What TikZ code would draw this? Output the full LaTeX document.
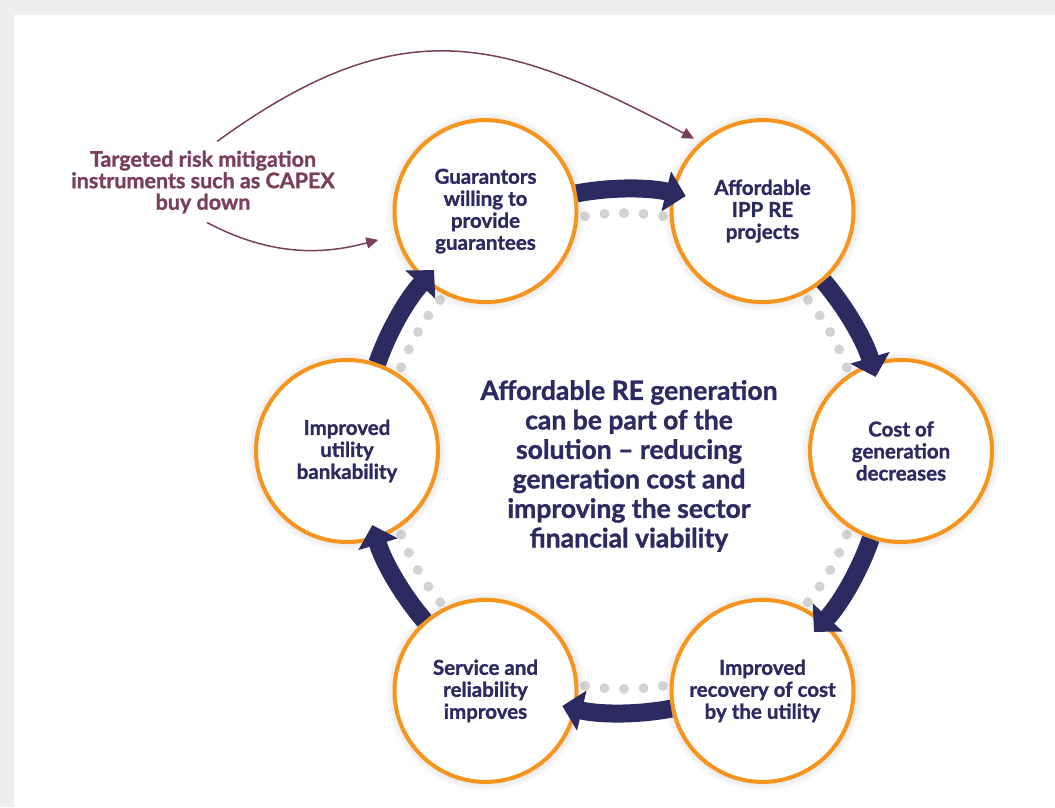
\documentclass[tikz,border=0pt]{standalone}
\usepackage{fontspec}
\setmainfont{Lato}
\newfontfamily\heavyfont{Lato}[Ligatures=TeX,BoldFeatures={FakeBold=1.2}]
\usepackage{xcolor}
\usetikzlibrary{arrows.meta,shadows,positioning,calc}
\definecolor{cyclenavy}{HTML}{2B2A61}
\definecolor{cycleorange}{HTML}{F7941E}
\definecolor{riskmaroon}{HTML}{7A3F5B}
\definecolor{dotgray}{HTML}{D3D3D3}
\definecolor{cardgray}{HTML}{EEEEEE}

\begin{document}
\begin{tikzpicture}[x=1pt,y=1pt,
    stage/.style={circle,minimum size=182pt,inner sep=0pt,draw=cycleorange,line width=4pt,fill=white,
        align=center,text=cyclenavy,font=\heavyfont\fontsize{20.5}{22}\selectfont\bfseries,
        circular drop shadow={shadow xshift=0pt,shadow yshift=0pt,shadow scale=1.1,opacity=0.3}},
    cyclearrow/.style={cyclenavy,line width=18pt,-{Triangle[length=20pt,width=40pt]}},
    riskarrow/.style={riskmaroon,line width=1.5pt,-{Triangle[length=12pt,width=11pt]}}]
    % Card
    \fill[cardgray] (0,0) rectangle (1055,807);
    \fill[white,drop shadow={shadow xshift=0pt,shadow yshift=0pt,opacity=0.2}] (14,0) rectangle (1055,792);
    
    \coordinate (hub) at (624,356);
    \begin{scope}[shift={(hub)}]
    % Dotted inner ring
    \foreach \c in {90,30,-30,-90,-150,150}
        \foreach \d in {-2,...,2}
            \fill[dotgray] ({\c+\d*4.7}:238) circle[radius=5];
    
    % Stages of the cycle
    \node[stage] (guar) at (120:277) {Guarantors\\willing to\\provide\\guarantees};
    \node[stage] (ipp) at (60:277) {Affordable\\IPP RE\\projects};
    \node[stage] (cost) at (0:277) {Cost of\\generation\\decreases};
    \node[stage] (recov) at (-60:277) {Improved\\recovery of cost\\by the utility};
    \node[stage] (serv) at (-120:277) {Service and\\reliability\\improves};
    \node[stage] (util) at (180:277) {Improved\\utility\\bankability};
    
    % Cycle arrows
    \foreach \src/\a in {guar/120,ipp/60,cost/0,recov/-60,serv/-120,util/180}{
        \pgfmathtruncatemacro{\b}{mod(\a+251,360)}
        \draw[cyclearrow] (\src.\b) arc[start angle={\a-19.4},delta angle=-24,radius=262];
    }
    \end{scope}
    
    % Centre message
    \node[align=center,text=cyclenavy,font=\heavyfont\fontsize{26.5}{29.5}\selectfont\bfseries] (core) at (629,341)
        {Affordable RE generation\\can be part of the\\solution – reducing\\generation cost and\\improving the sector\\financial viability};
    
    % Risk mitigation
    \node[align=center,text=riskmaroon,inner sep=9pt,font=\heavyfont\fontsize{21.5}{21.5}\selectfont\bfseries] (risk) at (203,625)
        {Targeted risk mitigation\\instruments such as CAPEX\\buy down};
    \draw[riskarrow,shorten >=7pt] ([xshift=14pt]risk.north) to[out=36,in=152,looseness=1.2] (ipp.132);
    \draw[riskarrow,shorten >=18pt] ([xshift=4pt]risk.south) to[out=-28,in=195] (guar.195);
\end{tikzpicture}
\end{document}
